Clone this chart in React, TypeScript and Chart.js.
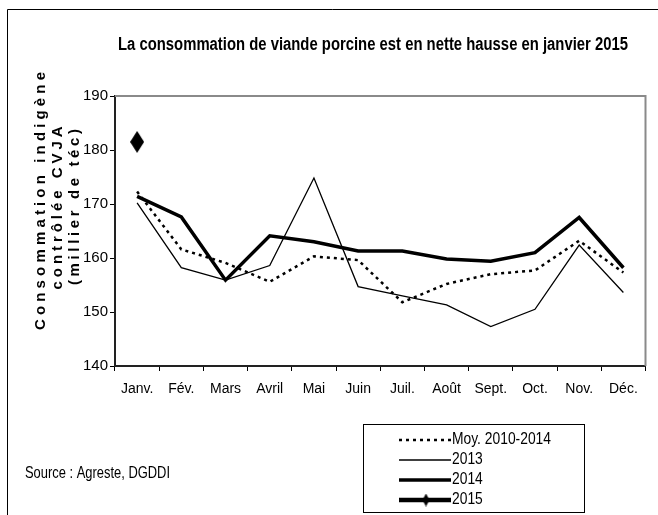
import React, { useEffect, useRef } from "react";
import { Chart, registerables } from "chart.js";

Chart.register(...registerables);

const categories = ["Janv.", "Fév.", "Mars", "Avril", "Mai", "Juin", "Juil.", "Août", "Sept.", "Oct.", "Nov.", "Déc."];
const moy = [172.3, 161.6, 159.1, 155.6, 160.3, 159.6, 151.8, 155.2, 157.0, 157.7, 163.2, 157.3];
const y2013 = [170.2, 158.2, 155.9, 158.6, 174.8, 154.7, 153.0, 151.3, 147.3, 150.5, 162.4, 153.6];
const y2014 = [171.4, 167.6, 155.9, 164.1, 163.0, 161.3, 161.3, 159.8, 159.4, 161.0, 167.5, 158.2];
const y2015 = [181.5, null, null, null, null, null, null, null, null, null, null, null];
const seriesLabels = ["Moy. 2010-2014", "2013", "2014", "2015"];
const yMin = 140;
const yMax = 190;
const yStep = 10;
const titleText = "La consommation de viande porcine est en nette hausse en janvier 2015";
const yTitleLines = ["Consommation indigène", "contrôlée CVJA", "(millier de téc)"];
const sourceText = "Source : Agreste, DGDDI";

const FONT = "'Liberation Sans', Arial, sans-serif";

function makeDiamond(w: number, h: number) {
  const c = document.createElement("canvas");
  c.width = w;
  c.height = h;
  const ctx = c.getContext("2d")!;
  ctx.fillStyle = "#000";
  ctx.beginPath();
  ctx.moveTo(w / 2, 0);
  ctx.lineTo(w, h / 2);
  ctx.lineTo(w / 2, h);
  ctx.lineTo(0, h / 2);
  ctx.closePath();
  ctx.fill();
  return c;
}

// draw text horizontally squeezed to a target width, left-aligned at x
function squeezeText(ctx: CanvasRenderingContext2D, text: string, x: number, y: number, sx: number) {
  ctx.save();
  ctx.translate(x, y);
  ctx.scale(sx, 1);
  ctx.textAlign = "left";
  ctx.textBaseline = "middle";
  ctx.fillText(text, 0, 0);
  ctx.restore();
}

export default function App() {
  const ref = useRef<HTMLCanvasElement | null>(null);

  useEffect(() => {
    if (!ref.current) return;
    const bigDiamond = makeDiamond(14, 22);
    const smallDiamond = makeDiamond(7, 13);

    const decor = {
      id: "decor",
      afterDraw(chart: any) {
        const ctx = chart.ctx as CanvasRenderingContext2D;
        const a = chart.chartArea;
        ctx.save();
        // plot border top/right
        ctx.strokeStyle = "#8a8a8a";
        ctx.lineWidth = 2;
        ctx.beginPath();
        ctx.moveTo(a.left, a.top);
        ctx.lineTo(a.right, a.top);
        ctx.lineTo(a.right, a.bottom);
        ctx.stroke();
        // outer frame
        ctx.strokeStyle = "#000";
        ctx.lineWidth = 1;
        ctx.beginPath();
        ctx.moveTo(7.5, 515);
        ctx.lineTo(7.5, 9.5);
        ctx.lineTo(658, 9.5);
        ctx.stroke();
        ctx.fillStyle = "#000";
        // title
        ctx.font = `bold 18px ${FONT}`;
        {
          const w = ctx.measureText(titleText).width;
          const target = 510;
          squeezeText(ctx, titleText, 373 - target / 2, 45, target / w);
        }
        // y title (letter-spaced, rotated)
        const xs = [41, 58, 75];
        const centers = [201, 208, 207];
        const lengths = [258, 163, 156];
        ctx.font = `bold 15px ${FONT}`;
        yTitleLines.forEach((t, i) => {
          (ctx as any).letterSpacing = "0px";
          const w0 = ctx.measureText(t).width;
          const n = Array.from(t).length;
          const sp = Math.max(0, (lengths[i] - w0) / (n - 1));
          (ctx as any).letterSpacing = `${sp}px`;
          ctx.save();
          ctx.translate(xs[i], centers[i] + lengths[i] / 2);
          ctx.rotate(-Math.PI / 2);
          ctx.textAlign = "left";
          ctx.textBaseline = "middle";
          ctx.fillText(t, 0, 0);
          ctx.restore();
        });
        (ctx as any).letterSpacing = "0px";
        // source
        ctx.font = `17px ${FONT}`;
        {
          const w = ctx.measureText(sourceText).width;
          squeezeText(ctx, sourceText, 25, 473, 145 / w);
        }
        // legend
        ctx.strokeStyle = "#000";
        ctx.lineWidth = 1;
        ctx.strokeRect(363.5, 424.5, 221, 88);
        const rows = [440, 460, 480, 500];
        ctx.font = `17px ${FONT}`;
        const legSx = 99 / ctx.measureText(seriesLabels[0]).width;
        chart.data.datasets.forEach((ds: any, i: number) => {
          const y = rows[i];
          ctx.save();
          ctx.strokeStyle = ds.borderColor;
          ctx.lineWidth = ds.borderWidth;
          ctx.setLineDash(ds.borderDash || []);
          ctx.beginPath();
          ctx.moveTo(399, y);
          ctx.lineTo(451, y);
          ctx.stroke();
          ctx.restore();
          if (i === 3) {
            ctx.drawImage(smallDiamond, 426 - 3.5, y - 6.5);
          }
          ctx.fillStyle = "#000";
          squeezeText(ctx, ds.label, 452, y - 1, legSx);
        });
        ctx.restore();
      },
    };

    const chart = new Chart(ref.current, {
      type: "line",
      data: {
        labels: categories,
        datasets: [
          {
            label: seriesLabels[0],
            data: moy,
            borderColor: "#000",
            borderWidth: 2.5,
            borderDash: [3, 4],
            pointRadius: 0,
            fill: false,
            tension: 0,
          },
          {
            label: seriesLabels[1],
            data: y2013,
            borderColor: "#000",
            borderWidth: 1.3,
            pointRadius: 0,
            fill: false,
            tension: 0,
          },
          {
            label: seriesLabels[2],
            data: y2014,
            borderColor: "#000",
            borderWidth: 3.5,
            pointRadius: 0,
            fill: false,
            tension: 0,
          },
          {
            label: seriesLabels[3],
            data: y2015,
            borderColor: "#000",
            backgroundColor: "#000",
            borderWidth: 4.5,
            pointStyle: bigDiamond as any,
            pointRadius: 8,
            fill: false,
            tension: 0,
          },
        ],
      },
      options: {
        animation: false,
        responsive: false,
        maintainAspectRatio: false,
        layout: { padding: { left: 0, top: 96, right: 10, bottom: 0 } },
        plugins: {
          legend: { display: false },
          title: { display: false },
          tooltip: { enabled: false },
        },
        scales: {
          x: {
            type: "category",
            offset: true,
            grid: { offset: true, drawOnChartArea: false, tickLength: 5, color: "#000", lineWidth: 1 },
            border: { color: "#222", width: 2 },
            ticks: { color: "#000", font: { size: 14, family: FONT }, padding: 10, maxRotation: 0, autoSkip: false },
            afterFit: (s: any) => {
              s.height = 149;
            },
          },
          y: {
            min: yMin,
            max: yMax,
            grid: { drawOnChartArea: false, tickLength: 5, color: "#000", lineWidth: 1 },
            border: { color: "#222", width: 2 },
            ticks: { stepSize: yStep, color: "#000", font: { size: 15, family: FONT }, padding: 2 },
            afterFit: (s: any) => {
              s.width = 115;
            },
          },
        },
      },
      plugins: [decor],
    });
    return () => chart.destroy();
  }, []);

  return (
    <div style={{ position: "absolute", left: 0, top: 0, width: 658, height: 515, background: "#fff" }}>
      <canvas ref={ref} width={658} height={515} style={{ width: 658, height: 515, display: "block" }} />
    </div>
  );
}
